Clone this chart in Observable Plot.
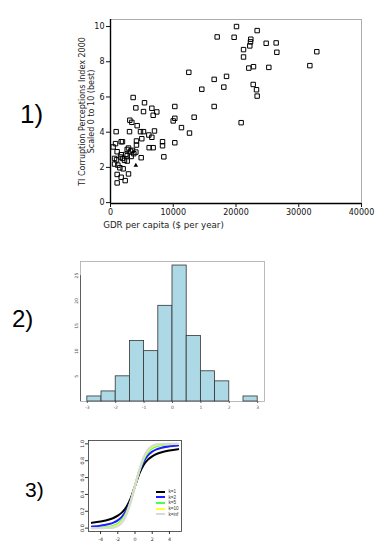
<!DOCTYPE html>
<html><head><meta charset="utf-8">
<script src="https://cdn.jsdelivr.net/npm/d3@7"></script>
<script src="https://cdn.jsdelivr.net/npm/@observablehq/plot@0.6"></script>
<style>
body{margin:0;background:#fff;}
#wrap{position:relative;width:392px;height:554px;overflow:hidden;background:#fff;}
.num{position:absolute;font-family:"Liberation Sans",Arial,sans-serif;color:#000;line-height:1;white-space:nowrap;}
.p{position:absolute;}
#leg{position:absolute;left:156px;top:489px;font-family:"Liberation Sans",Arial,sans-serif;font-size:4.6px;color:#333;line-height:5.65px;}
#leg div{display:flex;align-items:center;height:5.65px;}
#leg span.sw{display:inline-block;width:9px;height:2px;margin-right:3.5px;}
</style></head><body><div id="wrap"></div>
<script>
// ---------- Panel 1: scatter ----------
const gdp = [20080,17000,19700,23370,22360,22310,24810,26400,22200,21200,26510,32880,21200,22040,22790,25230,31770,12480,18490,16520,18060,14550,22740,23270,23370,16520,20820,10250,10250,9990,13330,11310,12590,10250,8290,8290,8500,
3610,5420,4040,6590,7380,5260,6800,3080,3400,4250,900,3030,4780,5260,7010,6110,6590,4990,4140,4140,6160,6800,1700,1910,800,420,1060,1700,1590,2660,2870,3190,3510,3720,4040,3290,2660,2230,640,640,1170,1490,2020,1910,4890,1060,2870,1700,2340,1060,960,2660,2440];
const cpi = [10.0,9.41,9.39,9.77,9.28,9.13,9.05,9.07,8.9,8.69,8.54,8.57,8.27,7.64,7.72,7.68,7.78,7.4,7.17,7.0,6.56,6.44,6.71,6.41,6.05,5.46,4.54,5.46,4.79,4.64,4.85,4.26,3.95,3.4,3.46,3.23,2.6,
5.97,5.67,5.38,5.36,5.15,5.17,4.96,4.68,4.56,4.37,4.03,4.03,4.03,4.03,4.07,3.84,3.71,3.63,3.5,3.27,3.12,3.12,3.46,3.46,3.35,3.16,2.89,2.72,2.59,3.02,3.1,2.93,2.97,2.78,2.87,2.62,2.36,2.4,2.51,2.19,2.13,1.98,1.92,2.51,2.55,1.6,1.63,1.44,1.25,1.12,2.43,2.66,2.74];
const gdpTri = [4040];
const cpiTri = [2.11];
const xTicks1 = [0,10000,20000,30000,40000];
const yTicks1 = [0,2,4,6,8,10];
const xDom1 = [0,40000];
const yDom1 = [-0.05,10.4];
const yLabel1 = "TI Corruption Perceptions Index 2000\nScaled 0 to 10 (best)";
const xLabel1 = "GDR per capita ($ per year)";

// ---------- Panel 2: histogram ----------
const binStart = [-3,-2.5,-2,-1.5,-1,-0.5,0,0.5,1,1.5,2,2.5];
const binEnd   = [-2.5,-2,-1.5,-1,-0.5,0,0.5,1,1.5,2,2.5,3];
const counts   = [1,2,5,12,10,19,27,13,6,4,0,1];
const xTicks2 = [-3,-2,-1,0,1,2,3];
const yTicks2 = [0,5,10,15,20,25];
const xDom2 = [-3.24,3.24];
const yDom2 = [0,27.8];

// ---------- Panel 3: curves ----------
const curveX = [-5,-4,-3,-2.5,-2,-1.5,-1,-0.5,0,0.5,1,1.5,2,2.5,3,4,5];
const k1   = [0.063,0.078,0.102,0.121,0.148,0.187,0.25,0.352,0.5,0.648,0.75,0.813,0.852,0.879,0.898,0.922,0.937];
const k2   = [0.019,0.029,0.048,0.065,0.092,0.136,0.211,0.333,0.5,0.667,0.789,0.864,0.908,0.935,0.952,0.971,0.981];
const k5   = [0.002,0.005,0.015,0.027,0.051,0.097,0.182,0.319,0.5,0.681,0.818,0.903,0.949,0.973,0.985,0.995,0.998];
const k10  = [0.000,0.001,0.007,0.016,0.037,0.082,0.170,0.314,0.5,0.686,0.830,0.918,0.963,0.984,0.993,0.999,1.0];
const kinf = [0.000,0.000,0.001,0.006,0.023,0.067,0.159,0.309,0.5,0.691,0.841,0.933,0.977,0.994,0.999,1.0,1.0];
const seriesNames = ["k=1","k=2","k=5","k=10","k=inf"];
const seriesColors = ["#000000","#1f1fff","#4dff4d","#ffff33","#d9d9d9"];
const xTicks3 = [-4,-2,0,2,4];
const yTicks3 = [0,0.2,0.4,0.6,0.8,1.0];
const xDom3 = [-5.4,5.4];
const yDom3 = [-0.04,1.04];

const wrap = document.getElementById("wrap");
function place(svg, left, top){ svg.classList.add("p"); svg.style.left=left+"px"; svg.style.top=top+"px"; wrap.appendChild(svg); }

// Panel 1
const pts = gdp.map((x,i)=>({x, y:cpi[i]}));
const tri = gdpTri.map((x,i)=>({x, y:cpiTri[i]}));
const p1 = Plot.plot({
  width:392, height:235,
  marginLeft:110, marginRight:31, marginTop:19, marginBottom:32,
  x:{domain:xDom1}, y:{domain:yDom1},
  style:{fontFamily:"DejaVu Sans", fontSize:"8px", color:"#111", background:"transparent"},
  marks:[
    Plot.frame({stroke:"#999", strokeWidth:0.8}),
    Plot.ruleX([xDom1[0]], {stroke:"#000", strokeWidth:1.4}),
    Plot.ruleY([yDom1[0]], {stroke:"#000", strokeWidth:1.4}),
    Plot.axisX({ticks:xTicks1, tickSize:4, tickPadding:2, tickFormat:d=>String(d), label:null, fontSize:8}),
    Plot.axisY({ticks:yTicks1, tickSize:4, tickPadding:2, tickFormat:d=>String(d), label:null, fontSize:8}),
    Plot.dot(pts, {x:"x", y:"y", symbol:"square", r:2.5, stroke:"#000", strokeWidth:1, fill:"none"}),
    Plot.dot(tri, {x:"x", y:"y", symbol:"triangle", r:1.7, fill:"#000", stroke:"none"}),
    Plot.text([yLabel1], {text:d=>d, frameAnchor:"left", textAnchor:"middle", rotate:-90, dx:-24, lineAnchor:"middle", lineHeight:1.08, fontSize:8, fill:"#222"}),
    Plot.text([xLabel1], {text:d=>d, frameAnchor:"bottom-left", textAnchor:"start", dx:-7.3, dy:22, lineAnchor:"middle", fontSize:8.7, fill:"#222"})
  ]
});
place(p1, 0, 0);

// Panel 2
const bins = binStart.map((s,i)=>({x1:s, x2:binEnd[i], n:counts[i]}));
const p2 = Plot.plot({
  width:220, height:175,
  marginLeft:20, marginRight:16, marginTop:16, marginBottom:19,
  x:{domain:xDom2}, y:{domain:yDom2},
  style:{fontFamily:"DejaVu Sans", fontSize:"4.5px", color:"#555", background:"transparent"},
  marks:[
    Plot.frame({stroke:"#aaa", strokeWidth:0.8}),
    Plot.ruleX([xDom2[0]], {y1:yTicks2[0], y2:yTicks2[yTicks2.length-1], stroke:"#555", strokeWidth:0.9}),
    Plot.rectY(bins, {x1:"x1", x2:"x2", y:"n", fill:"#ADD8E6", stroke:"#333", strokeWidth:0.8}),
    Plot.axisX({ticks:xTicks2, tickSize:2, tickPadding:2, tickFormat:d=>String(d), label:null, fontSize:4.5}),
    Plot.axisY({ticks:yTicks2.slice(1), tickSize:0, tickPadding:3, tickRotate:-90, tickFormat:d=>String(d), label:null, fontSize:4.5})
  ]
});
place(p2, 60, 245);

// Panel 3
const curves = [];
[k1,k2,k5,k10,kinf].forEach((arr,j)=>arr.forEach((v,i)=>curves.push({x:curveX[i], y:v, k:seriesNames[j]})));
const p3 = Plot.plot({
  width:140, height:125,
  marginLeft:28, marginRight:19, marginTop:15, marginBottom:19,
  x:{domain:xDom3}, y:{domain:yDom3},
  color:{domain:seriesNames, range:seriesColors},
  style:{fontFamily:"DejaVu Sans", fontSize:"4.8px", color:"#333", background:"transparent"},
  marks:[
    Plot.frame({stroke:"#333", strokeWidth:0.8}),
    Plot.line(curves, {x:"x", y:"y", z:"k", stroke:"k", strokeWidth:2.1, curve:"monotone-x"}),
    Plot.axisX({ticks:xTicks3, tickSize:3, tickPadding:3, tickFormat:d=>String(d), label:null, fontSize:4.8}),
    Plot.axisY({ticks:yTicks3, tickSize:3, tickPadding:2, tickRotate:-90, tickFormat:d=>d.toFixed(1), label:null, fontSize:4.8})
  ]
});
place(p3, 60, 425);

// Legend
const leg = document.createElement("div"); leg.id="leg";
seriesNames.forEach((n,i)=>{ const r=document.createElement("div"); r.innerHTML=`<span class="sw" style="background:${seriesColors[i]}"></span>${n}`; leg.appendChild(r); });
wrap.appendChild(leg);

// Panel numbers
[["1)",20,101,26],["2)",12,307,24],["3)",25,479,21]].forEach(([t,l,tp,fs])=>{
  const d=document.createElement("div"); d.className="num"; d.textContent=t;
  d.style.left=l+"px"; d.style.top=tp+"px"; d.style.fontSize=fs+"px"; wrap.appendChild(d);
});
</script>
</body></html>
